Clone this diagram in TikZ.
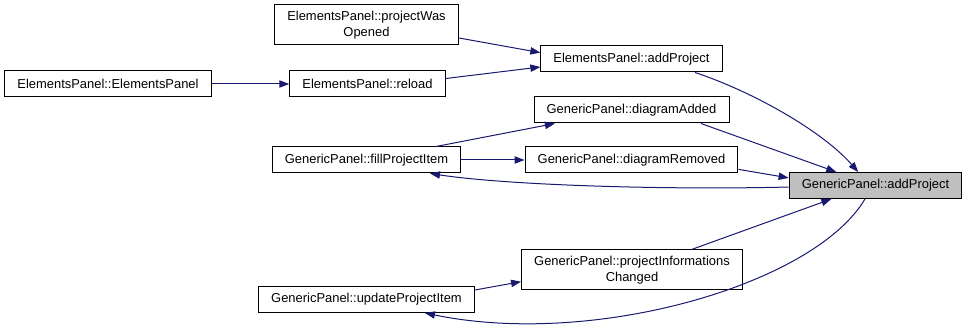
\documentclass[tikz,border=0pt]{standalone}
\usepackage{fontspec}
\setmainfont{Liberation Sans}
\usetikzlibrary{arrows.meta}
\definecolor{callBlue}{RGB}{25,25,112}
\definecolor{focusGray}{RGB}{191,191,191}

\begin{document}
\begin{tikzpicture}[
    x=0.75pt, y=-0.75pt,
    fn/.style={rectangle, draw=black, fill=white, line width=0.75pt, inner xsep=9.5pt, inner ysep=2pt, minimum height=19.5pt, align=center, font=\fontsize{9.7}{11.5}\selectfont},
    call/.style={-{Triangle[length=7.5pt,width=5.5pt]}, callBlue, line width=0.75pt}
]
    \useasboundingbox (0,0) rectangle (965,334);

    \node[fn, fill=focusGray] (gpAddProject) at (875.5,185.5) {GenericPanel::addProject};

    \node[fn, minimum height=30pt] (epWasOpened) at (366.5,25) {ElementsPanel::projectWas\\Opened};
    \node[fn] (epAddProject) at (631.5,59) {ElementsPanel::addProject};
    \node[fn] (epReload) at (367.5,84) {ElementsPanel::reload};
    \node[fn] (epCtor) at (108,84) {ElementsPanel::ElementsPanel};

    \node[fn] (gpDiagAdded) at (631.5,110) {GenericPanel::diagramAdded};
    \node[fn] (gpDiagRemoved) at (631.5,160) {GenericPanel::diagramRemoved};
    \node[fn] (gpFillItem) at (366.5,160) {GenericPanel::fillProjectItem};

    \node[fn, minimum height=30pt] (gpInfoChanged) at (632,270) {GenericPanel::projectInformations\\Changed};
    \node[fn] (gpUpdateItem) at (366.5,299.5) {GenericPanel::updateProjectItem};

    % callers of ElementsPanel::addProject
    \draw[call] (epCtor.east) -- (epReload.west);
    \draw[call] (epWasOpened.-8) -- (epAddProject.176);
    \draw[call] (epReload.4) -- (epAddProject.185);

    % callers of GenericPanel::addProject
    \draw[call] (epAddProject.-12.5) .. controls +(60,20) and +(-35,-40) .. (gpAddProject.142);
    \draw[call] (gpDiagAdded.-11.6) -- (gpAddProject.161);
    \draw[call] (gpDiagRemoved.-5.5) -- (gpAddProject.175);
    \draw[call] (gpInfoChanged.19) -- (gpAddProject.197);

    \draw[call] (gpFillItem.11.6) -- (gpDiagAdded.190);
    \draw[call] (gpFillItem.east) -- (gpDiagRemoved.west);
    \draw[call] (gpUpdateItem.5) -- (gpInfoChanged.186);

    % the loops back from GenericPanel::addProject
    \draw[call] (gpAddProject.181.6) .. controls +(-120,3) and +(80,12) .. (gpFillItem.-12.5);
    \draw[call] (gpAddProject.232) .. controls +(-50,85) and +(170,35) .. (gpUpdateItem.-13);
\end{tikzpicture}
\end{document}
